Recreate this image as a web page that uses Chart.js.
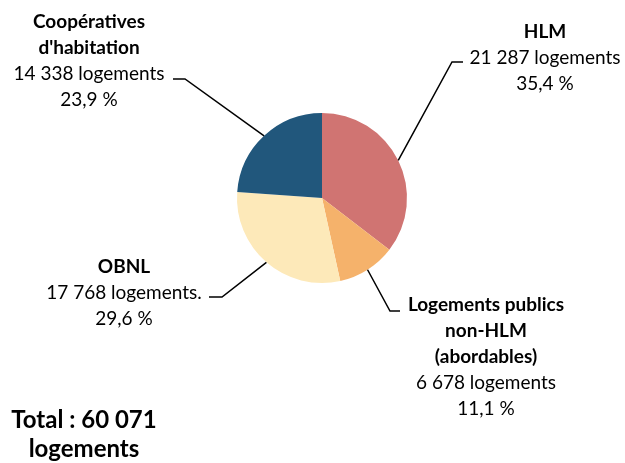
<!DOCTYPE html>
<html>
<head>
<meta charset="utf-8">
<script src="https://cdn.jsdelivr.net/npm/chart.js@4"></script>
<style>
  html, body { margin: 0; padding: 0; background: #fff; }
  #wrap { width: 625px; height: 463px; position: relative; }
</style>
</head>
<body>
<div id="wrap"><canvas id="pie"></canvas></div>
<script>
const categories = ["HLM", "Logements publics non-HLM (abordables)", "OBNL", "Coopératives d'habitation"];
const logements = [21287, 6678, 17768, 14338];
const percents = ["35,4 %", "11,1 %", "29,6 %", "23,9 %"];
const countLabels = ["21 287 logements", "6 678 logements", "17 768 logements.", "14 338 logements"];
const titleLines = [["HLM"], ["Logements publics", "non-HLM", "(abordables)"], ["OBNL"], ["Coopératives", "d'habitation"]];
const colors = ["#D07472", "#F5B26B", "#FDE9B9", "#21577C"];
const totalLines = ["Total : 60 071", "logements"];

// where each label block sits and where its leader line bends
const labelPos = [
    { x: 545, y: 32, elbow: [452, 62], end: [463, 62] },
    { x: 486, y: 305, elbow: [390, 311], end: [400, 311] },
    { x: 124, y: 267, elbow: [222, 297], end: [209, 297] },
    { x: 89, y: 22, elbow: [185, 79], end: [173, 79] }
];

const FONT = "Lato, 'Open Sans', sans-serif";
const LINE_H = 26;

const labelsPlugin = {
    id: "pieLabels",
    afterDatasetsDraw(chart) {
        const ctx = chart.ctx;
        const arcs = chart.getDatasetMeta(0).data;
        ctx.save();
        ctx.strokeStyle = "#000";
        ctx.lineWidth = 1.5;
        arcs.forEach((arc, i) => {
            const mid = (arc.startAngle + arc.endAngle) / 2;
            const px = arc.x + Math.cos(mid) * arc.outerRadius;
            const py = arc.y + Math.sin(mid) * arc.outerRadius;
            const p = labelPos[i];
            ctx.beginPath();
            ctx.moveTo(px, py);
            ctx.lineTo(p.elbow[0], p.elbow[1]);
            ctx.lineTo(p.end[0], p.end[1]);
            ctx.stroke();
        });

        ctx.fillStyle = "#000";
        ctx.textAlign = "center";
        ctx.textBaseline = "middle";
        arcs.forEach((arc, i) => {
            const p = labelPos[i];
            let y = p.y;
            ctx.font = "bold 19px " + FONT;
            titleLines[i].forEach(t => {
                ctx.fillText(t, p.x, y);
                y += LINE_H;
            });
            ctx.font = "19px " + FONT;
            ctx.fillText(countLabels[i], p.x, y);
            y += LINE_H;
            ctx.fillText(percents[i], p.x, y);
        });

        ctx.font = "bold 24px " + FONT;
        ctx.fillText(totalLines[0], 84, 420);
        ctx.fillText(totalLines[1], 84, 449);
        ctx.restore();
    }
};

new Chart(document.getElementById("pie"), {
    type: "pie",
    data: {
        labels: categories,
        datasets: [{
            data: logements,
            backgroundColor: colors,
            borderWidth: 0,
            radius: 85
        }]
    },
    options: {
        responsive: true,
        maintainAspectRatio: false,
        animation: false,
        layout: { padding: { left: 19, top: 0, right: 0, bottom: 67 } },
        plugins: {
            legend: { display: false },
            tooltip: { enabled: false }
        }
    },
    plugins: [labelsPlugin]
});
</script>
</body>
</html>
